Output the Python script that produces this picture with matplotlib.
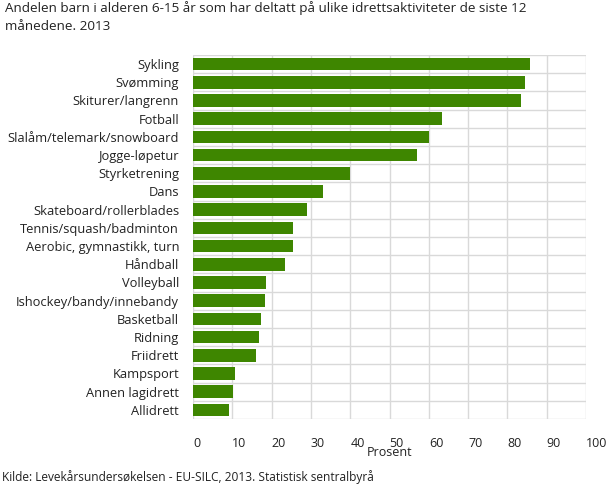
import numpy as np
import matplotlib.pyplot as plt
from matplotlib.ticker import FixedLocator

# data (percent)
activities = [
    "Sykling", "Svømming", "Skiturer/langrenn", "Fotball",
    "Slalåm/telemark/snowboard", "Jogge-løpetur", "Styrketrening", "Dans",
    "Skateboard/rollerblades", "Tennis/squash/badminton",
    "Aerobic, gymnastikk, turn", "Håndball", "Volleyball",
    "Ishockey/bandy/innebandy", "Basketball", "Ridning", "Friidrett",
    "Kampsport", "Annen lagidrett", "Allidrett",
]
share = [85.7, 84.4, 83.4, 63.3, 60.0, 57.0, 39.9, 33.1, 29.0, 25.4,
         25.4, 23.4, 18.6, 18.3, 17.3, 16.8, 16.0, 10.7, 10.2, 9.2]
xticks = list(range(0, 101, 10))

plt.rcParams['font.family'] = ['Open Sans', 'DejaVu Sans']

fig = plt.figure(figsize=(6.09, 4.88), dpi=100)
ax = fig.add_axes([193 / 609, 1 - 419 / 488, 393 / 609, 364 / 488])

y = np.arange(len(activities))
ax.barh(y, share, height=0.7, color='#3e8600', zorder=3)

ax.set_xlim(0, 100)
ax.set_ylim(len(activities) - 0.5, -0.5)
ax.set_yticks(y)
ax.set_yticklabels(activities, fontsize=9.3, color='#222222')
ax.yaxis.set_minor_locator(FixedLocator(np.arange(-0.5, len(activities), 1)))
ax.set_xticks(xticks)
ax.set_xticklabels([str(t) for t in xticks], fontsize=9, color='#222222', ha='left')

ax.tick_params(axis='both', which='both', length=0)
ax.tick_params(axis='y', pad=10)
ax.tick_params(axis='x', pad=13)

ax.grid(axis='x', which='major', color='#d9d9d9', lw=1, zorder=0)
ax.grid(axis='y', which='minor', color='#d9d9d9', lw=1, zorder=0)
ax.grid(axis='y', which='major', visible=False)
for s in ax.spines.values():
    s.set_visible(False)

ax.set_xlabel('Prosent', fontsize=9, color='#222222', labelpad=-3)

fig.text(0.008, 1 - 17 / 488, 'Andelen barn i alderen 6-15 år som har deltatt på ulike idrettsaktiviteter de siste 12\nmånedene. 2013',
         fontsize=9.7, color='#222222', va='center', linespacing=1.5)
fig.text(0.003, 1 - 477 / 488, 'Kilde: Levekårsundersøkelsen - EU-SILC, 2013. Statistisk sentralbyrå',
         fontsize=8.6, color='#222222', va='center')

fig.savefig('out.png', dpi=100)
